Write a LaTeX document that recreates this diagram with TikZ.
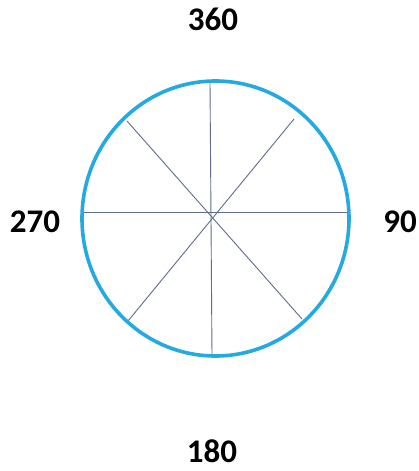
\documentclass[tikz,border=0pt]{standalone}
\usepackage{fontspec}
\setmainfont{Carlito}
\definecolor{ringblue}{RGB}{36,170,225}
\definecolor{spoke}{RGB}{95,108,140}
\begin{document}
\begin{tikzpicture}[x=1pt,y=-1pt,
  ring/.style={draw=ringblue,line width=3.6pt},
  spokeline/.style={draw=spoke,line width=0.9pt},
  lab/.style={font=\fontsize{33}{36}\selectfont\bfseries,inner sep=0pt,anchor=center}]
\useasboundingbox (0,0) rectangle (418,471);
\fill[white] (0,0) rectangle (418,471);
\node[lab] (n360) at (213,19) {360};
\node[lab] (n270) at (35,222) {270};
\node[lab] (n90) at (400,222) {90};
\node[lab] (n180) at (212,451) {180};
\coordinate (t) at (210,82);
\coordinate (b) at (212,356);
\coordinate (l) at (83,212);
\coordinate (r) at (348,212);
\coordinate (ul) at (127,121);
\coordinate (ur) at (294,119);
\coordinate (ll) at (128,321);
\coordinate (lr) at (302,319);
\draw[spokeline] (t) -- (b);
\draw[spokeline] (l) -- (r);
\draw[spokeline] (ul) -- (lr);
\draw[spokeline] (ur) -- (ll);
\draw[ring] (215.5,218.5) ellipse [x radius=133.5, y radius=137.5];
\end{tikzpicture}
\end{document}
